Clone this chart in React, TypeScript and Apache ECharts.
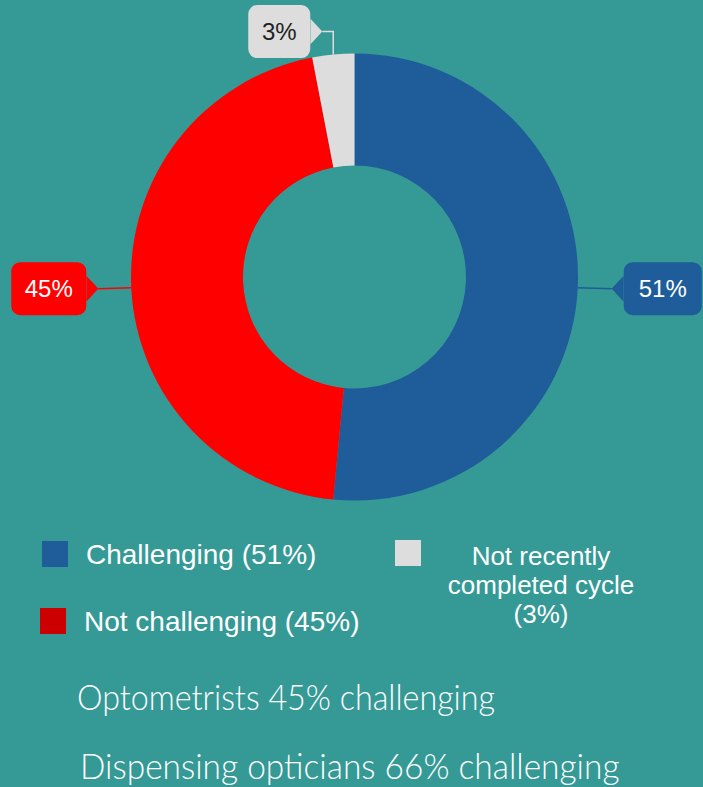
import React, { useEffect, useRef } from 'react';
import * as echarts from 'echarts';

// ---------- data ----------
const categories = ['Challenging (51%)', 'Not challenging (45%)', 'Not recently completed cycle (3%)'];
const values = [51, 45, 3];
const labelTexts = ['51%', '45%', '3%'];
const footnotes = ['Optometrists 45% challenging', 'Dispensing opticians 66% challenging'];

// ---------- styles / layout ----------
const BG = '#359996';
const sliceColors = ['#1e5c9a', '#ff0000', '#dddddd'];
const legendColors = ['#1e5c9a', '#cc0000', '#dddddd'];
const labelTextColors = ['#ffffff', '#ffffff', '#222222'];
const CENTER = [354.5, 277];
const RADIUS = [111.5, 223.5];
const SANS = '"Liberation Sans", Arial, sans-serif';
const THIN = 'Lato';
const footLayout = [
  { left: 77, y: 696, width: 418 },
  { left: 80, y: 765, width: 540 },
];

function triangle(color: string, dir: 'left' | 'right') {
  const pts = dir === 'left' ? '0,13 12,0 12,26' : '0,0 12,13 0,26';
  const svg = `<svg xmlns="http://www.w3.org/2000/svg" width="12" height="26" viewBox="0 0 12 26" preserveAspectRatio="none"><polygon points="${pts}" fill="${color}"/></svg>`;
  return 'data:image/svg+xml;charset=utf-8,' + encodeURIComponent(svg);
}

function fallbackStart(i: number) {
  const total = values.reduce((a, b) => a + b, 0);
  let acc = 0;
  for (let k = 0; k < i; k++) acc += values[k];
  const mid = ((acc + values[i] / 2) / total) * Math.PI * 2;
  const ang = Math.PI / 2 - mid;
  return [CENTER[0] + RADIUS[1] * Math.cos(ang), CENTER[1] - RADIUS[1] * Math.sin(ang)];
}

export default function App() {
  const ref = useRef<HTMLDivElement>(null);
  useEffect(() => {
    if (!ref.current) return;
    const chart = echarts.init(ref.current, undefined, { renderer: 'svg' });

    const canvas = document.createElement('canvas');
    const ctx = canvas.getContext('2d')!;
    ctx.font = `300 35px ${THIN}`;
    const scales = footnotes.map((t, i) => footLayout[i].width / ctx.measureText(t).width);

    const rich: any = {
      p0: { width: 12, height: 26, backgroundColor: { image: triangle(sliceColors[0], 'left') } },
      p1: { width: 12, height: 26, backgroundColor: { image: triangle(sliceColors[1], 'right') } },
      p2: { width: 12, height: 26, backgroundColor: { image: triangle(sliceColors[2], 'right') } },
    };
    const boxW = [78, 75, 62];
    [0, 1, 2].forEach((i) => {
      rich['b' + i] = {
        width: boxW[i], height: 53, backgroundColor: sliceColors[i], borderRadius: 9,
        color: labelTextColors[i], fontSize: 24, fontFamily: SANS, align: 'center',
      };
    });

    const option: any = {
      animation: false,
      backgroundColor: BG,
      legend: [
        {
          data: [{ name: categories[0], itemStyle: { color: legendColors[0] } }],
          left: 42, top: 540, padding: 0, itemWidth: 26, itemHeight: 26, icon: 'rect', selectedMode: false,
          textStyle: { color: '#fff', fontSize: 28, fontFamily: SANS, lineHeight: 26, padding: [0, 0, 0, 13] },
        },
        {
          data: [{ name: categories[1], itemStyle: { color: legendColors[1] } }],
          left: 40, top: 607, padding: 0, itemWidth: 26, itemHeight: 26, icon: 'rect', selectedMode: false,
          textStyle: { color: '#fff', fontSize: 28, fontFamily: SANS, lineHeight: 26, padding: [0, 0, 0, 13] },
        },
        {
          data: [{ name: categories[2], itemStyle: { color: legendColors[2] } }],
          left: 395, top: 477.5, padding: 0, itemWidth: 26, itemHeight: 26, icon: 'rect', selectedMode: false,
          formatter: () => '{c|Not recently}\n{c|completed cycle}\n{c|(3%)}',
          textStyle: {
            color: '#fff', fontSize: 26, fontFamily: SANS, padding: [64, 0, 0, 0], backgroundColor: 'rgba(0,0,0,0)',
            rich: { c: { width: 230, align: 'center', fontSize: 26, lineHeight: 29, color: '#fff', fontFamily: SANS } },
          },
        },
      ],
      graphic: footnotes.map((t, i) => ({
        type: 'text',
        x: footLayout[i].left,
        y: footLayout[i].y,
        scaleX: scales[i],
        style: { text: t, fontFamily: THIN, fontWeight: 300, fontSize: 35, fill: '#ffffff', verticalAlign: 'middle' },
      })),
      series: [
        {
          type: 'pie',
          center: CENTER,
          radius: RADIUS,
          startAngle: 90,
          clockwise: true,
          avoidLabelOverlap: false,
          emphasis: { disabled: true },
          data: categories.map((n, i) => ({ name: n, value: values[i], itemStyle: { color: sliceColors[i] } })),
          label: {
            show: true,
            position: 'outside',
            formatter: (p: any) => {
              const i = p.dataIndex;
              return i === 0 ? `{p0| }{b0|${labelTexts[0]}}` : `{b${i}|${labelTexts[i]}}{p${i}| }`;
            },
            rich,
          },
          labelLine: { show: true, length: 10, length2: 10, lineStyle: { width: 1.5 } },
          labelLayout: (params: any) => {
            const i = params.dataIndex;
            const pts = params.labelLinePoints;
            const [sx, sy] = pts && pts[0] ? pts[0] : fallbackStart(i);
            if (i === 0) {
              const tx = sx + 34;
              return { x: tx, y: sy + 1, align: 'left', verticalAlign: 'middle', labelLinePoints: [[sx, sy], [tx, sy + 1]] };
            }
            if (i === 1) {
              const tx = sx - 33;
              return { x: tx, y: sy + 1, align: 'right', verticalAlign: 'middle', labelLinePoints: [[sx, sy], [tx, sy + 1]] };
            }
            const ty = sy - 23;
            const tx = sx - 11;
            return { x: tx, y: ty, align: 'right', verticalAlign: 'middle', labelLinePoints: [[sx, sy], [sx, ty], [tx, ty]] };
          },
        },
      ],
    };
    chart.setOption(option);
    return () => chart.dispose();
  }, []);
  return <div ref={ref} style={{ position: 'absolute', left: 0, top: 0, width: 703, height: 787 }} />;
}
